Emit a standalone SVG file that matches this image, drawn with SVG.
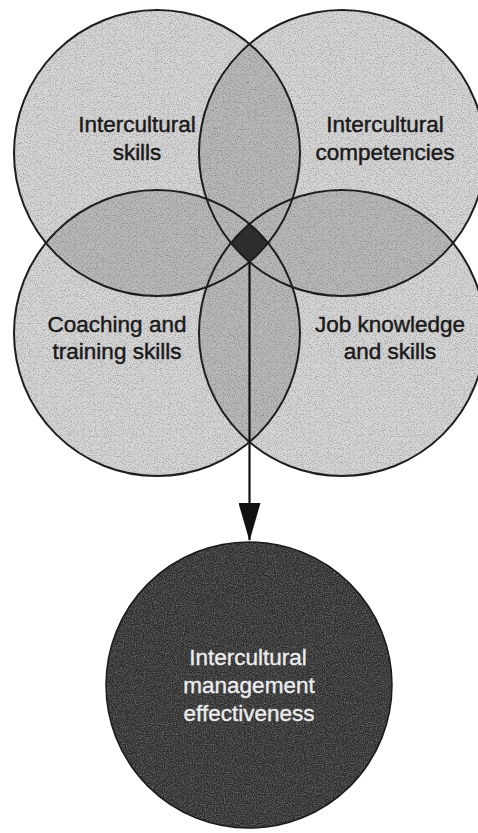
<svg xmlns="http://www.w3.org/2000/svg" width="478" height="833" viewBox="0 0 478 833">
  <defs>
    <style>
      .lens { fill: #b9b9b9; }
      .rim { fill: none; stroke: #1e1e1e; stroke-width: 2; }
      .lbl { font-family: "Liberation Sans", Arial, sans-serif; font-size: 22.5px; fill: #1a1a1a; stroke: #1a1a1a; stroke-width: 0.45; text-anchor: middle; }
      .lbl-inv { font-family: "Liberation Sans", Arial, sans-serif; font-size: 22.5px; fill: #ededed; stroke: #ededed; stroke-width: 0.35; text-anchor: middle; }
      .link { stroke: #111; stroke-width: 2.2; fill: none; }
    </style>
    <!-- paper grain for the light discs -->
    <filter id="grainDark" x="0" y="0" width="100%" height="100%" color-interpolation-filters="sRGB">
      <feTurbulence type="fractalNoise" baseFrequency="0.85" numOctaves="2" seed="7" result="n"/>
      <feColorMatrix in="n" type="matrix" values="1 0 0 0 0  1 0 0 0 0  1 0 0 0 0  0 0 0 0 1" result="g"/>
      <feComponentTransfer in="g" result="gc">
        <feFuncR type="linear" slope="0.75" intercept="0.6"/>
        <feFuncG type="linear" slope="0.75" intercept="0.6"/>
        <feFuncB type="linear" slope="0.75" intercept="0.6"/>
      </feComponentTransfer>
      <feBlend in="SourceGraphic" in2="gc" mode="multiply" result="m"/>
      <feComposite in="m" in2="SourceGraphic" operator="in"/>
    </filter>
    <!-- speckle for the dark outcome disc -->
    <filter id="grainLight" x="0" y="0" width="100%" height="100%" color-interpolation-filters="sRGB">
      <feTurbulence type="fractalNoise" baseFrequency="0.9" numOctaves="2" seed="11" result="n"/>
      <feColorMatrix in="n" type="matrix" values="1 0 0 0 0  1 0 0 0 0  1 0 0 0 0  0 0 0 0 1" result="g"/>
      <feComponentTransfer in="g" result="gc">
        <feFuncR type="linear" slope="0.6" intercept="-0.2"/>
        <feFuncG type="linear" slope="0.6" intercept="-0.2"/>
        <feFuncB type="linear" slope="0.6" intercept="-0.2"/>
      </feComponentTransfer>
      <feBlend in="SourceGraphic" in2="gc" mode="screen" result="m"/>
      <feComposite in="m" in2="SourceGraphic" operator="in"/>
    </filter>
    <clipPath id="cTL"><circle cx="157" cy="153" r="143"/></clipPath>
    <clipPath id="cTR"><circle cx="342" cy="153" r="143"/></clipPath>
    <clipPath id="cBL"><circle cx="157" cy="333" r="143"/></clipPath>
    <clipPath id="cBR"><circle cx="342" cy="333" r="143"/></clipPath>
    <clipPath id="cAll">
      <circle cx="157" cy="153" r="143"/>
      <circle cx="342" cy="153" r="143"/>
      <circle cx="157" cy="333" r="143"/>
      <circle cx="342" cy="333" r="143"/>
    </clipPath>
    <rect id="field" x="0" y="0" width="478" height="480"/>
    <marker id="head" viewBox="0 0 38 22" refX="37" refY="11" markerWidth="38" markerHeight="22" markerUnits="userSpaceOnUse" orient="auto">
      <path d="M0,0 L38,11 L0,22 Z" fill="#111"/>
    </marker>
  </defs>

  <rect width="478" height="833" fill="#fff"/>

  <!-- shaded fills of the four overlapping skill areas -->
  <g id="fills" clip-path="url(#cAll)">
    <g filter="url(#grainDark)">
      <rect x="0" y="0" width="478" height="480" fill="#d6d6d6"/>
      <!-- pairwise overlaps -->
      <g clip-path="url(#cTL)"><use href="#field" class="lens" clip-path="url(#cTR)"/></g>
      <g clip-path="url(#cTL)"><use href="#field" class="lens" clip-path="url(#cBL)"/></g>
      <g clip-path="url(#cTR)"><use href="#field" class="lens" clip-path="url(#cBR)"/></g>
      <g clip-path="url(#cBL)"><use href="#field" class="lens" clip-path="url(#cBR)"/></g>
      <g clip-path="url(#cTL)"><use href="#field" class="lens" clip-path="url(#cBR)"/></g>
      <g clip-path="url(#cTR)"><use href="#field" class="lens" clip-path="url(#cBL)"/></g>
      <!-- core where all four areas meet -->
      <g clip-path="url(#cTL)">
        <g clip-path="url(#cTR)">
          <g clip-path="url(#cBL)">
            <rect x="200" y="200" width="100" height="90" fill="#303030" clip-path="url(#cBR)"/>
          </g>
        </g>
      </g>
    </g>
  </g>

  <g id="node-intercultural-skills">
    <circle class="rim" cx="157" cy="153" r="143"/>
    <text class="lbl" x="137" y="132">Intercultural</text>
    <text class="lbl" x="137" y="160">skills</text>
  </g>

  <g id="node-intercultural-competencies">
    <circle class="rim" cx="342" cy="153" r="143"/>
    <text class="lbl" x="385" y="132">Intercultural</text>
    <text class="lbl" x="385" y="160">competencies</text>
  </g>

  <g id="node-coaching-training">
    <circle class="rim" cx="157" cy="333" r="143"/>
    <text class="lbl" x="117" y="332">Coaching and</text>
    <text class="lbl" x="117" y="359">training skills</text>
  </g>

  <g id="node-job-knowledge">
    <circle class="rim" cx="342" cy="333" r="143"/>
    <text class="lbl" x="390" y="332">Job knowledge</text>
    <text class="lbl" x="390" y="359">and skills</text>
  </g>

  <g id="connectors">
    <line class="link" x1="249.5" y1="262" x2="249.5" y2="540" marker-end="url(#head)"/>
  </g>

  <g id="node-management-effectiveness">
    <circle cx="249" cy="685" r="143" fill="#2a2a2a" filter="url(#grainLight)"/>
    <circle cx="249" cy="685" r="143" fill="none" stroke="#1a1a1a" stroke-width="1.5"/>
    <text class="lbl-inv" x="248" y="665">Intercultural</text>
    <text class="lbl-inv" x="249" y="693">management</text>
    <text class="lbl-inv" x="249" y="721">effectiveness</text>
  </g>
</svg>
